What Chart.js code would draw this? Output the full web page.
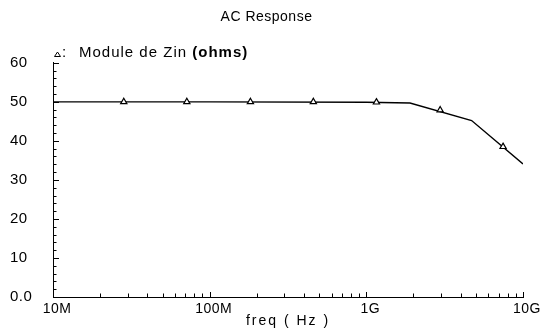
<!DOCTYPE html>
<html><head><meta charset="utf-8">
<script src="https://cdn.jsdelivr.net/npm/chart.js@4.4.0/dist/chart.umd.min.js"></script>
<style>html,body{margin:0;padding:0;background:#fff}#wrap{width:543px;height:333px}</style>
</head><body><div id="wrap"><canvas id="c" width="543" height="333"></canvas></div>
<script>
// ---- data ----
const chartTitle = 'AC Response';
const seriesName = 'Module de Zin';
const seriesUnit = '(ohms)';
const xTitle = 'freq ( Hz )';
const freqHz = [1e7, 1e8, 1e9, 1.9e9, 4.7e9, 1e10];
const zinOhms = [50, 50, 49.9, 49.7, 45.2, 34.1];
const markerFreqHz = [2.83e7, 7.15e7, 1.82e8, 4.59e8, 1.16e9, 2.96e9, 7.46e9];
const markerOhms = [50, 50, 50, 50, 49.9, 47.9, 38.5];
const xTickValues = [1e7, 1e8, 1e9, 1e10];
const xTickLabels = ['10M', '100M', '1G', '10G'];
const yTickValues = [0, 10, 20, 30, 40, 50, 60];
const yTickLabels = ['0.0', '10', '20', '30', '40', '50', '60'];

const FONT = '"Liberation Sans", Arial, sans-serif';
Chart.defaults.font.family = FONT;
Chart.defaults.font.size = 14;
Chart.defaults.color = '#000';

function withSpacing(obj, method, spacing) {
  const orig = obj[method];
  obj[method] = function () {
    const c = this.ctx;
    const prev = c.letterSpacing;
    c.letterSpacing = spacing;
    const r = orig.apply(this, arguments);
    c.letterSpacing = prev;
    return r;
  };
}

const ticksPlugin = {
  id: 'ticksAndLegend',
  beforeDraw(chart) {
    if (!chart._spacingDone) {
      withSpacing(chart.scales.x, 'drawTitle', '2px');
      chart._spacingDone = true;
    }
    chart.ctx.letterSpacing = '0.5px';
  },
  afterDraw(chart) {
    const ctx = chart.ctx;
    const ys = chart.scales.y, xs = chart.scales.x;
    const {left, bottom} = chart.chartArea;
    ctx.save();
    ctx.strokeStyle = '#000';
    ctx.lineWidth = 1;
    ctx.beginPath();
    for (let v = ys.min; v <= ys.max; v += 2) {
      const py = Math.round(ys.getPixelForValue(v)) + 0.5;
      const len = (v % 10 === 0) ? 6 : 3.5;
      ctx.moveTo(left, py); ctx.lineTo(left + len, py);
    }
    for (let e = 7; e <= 10; e++) {
      for (let m = 1; m <= 9; m++) {
        const v = m * Math.pow(10, e);
        if (v > xs.max * 1.0001) break;
        const px = Math.round(xs.getPixelForValue(v)) + 0.5;
        const len = (m === 1) ? 5 : 3.5;
        ctx.moveTo(px, bottom); ctx.lineTo(px, bottom - len);
      }
    }
    ctx.stroke();
    // legend line
    const base = 57;
    const tx = left + 4.5;
    ctx.beginPath();
    ctx.moveTo(tx, base - 5);
    ctx.lineTo(tx + 3, base - 0.5);
    ctx.lineTo(tx - 3, base - 0.5);
    ctx.closePath();
    ctx.stroke();
    ctx.fillStyle = '#000';
    ctx.textBaseline = 'alphabetic';
    ctx.textAlign = 'left';
    ctx.letterSpacing = '1px';
    ctx.font = '15px ' + FONT;
    ctx.fillText(':', left + 9, base);
    const t1 = seriesName + ' ';
    ctx.fillText(t1, left + 26, base);
    const w1 = ctx.measureText(t1).width;
    ctx.font = 'bold 15px ' + FONT;
    ctx.fillText(seriesUnit, left + 26 + w1, base);
    ctx.restore();
  }
};

new Chart(document.getElementById('c'), {
  type: 'line',
  data: {
    datasets: [
      {
        label: seriesName + ' markers',
        data: markerFreqHz.map((f, i) => ({x: f, y: markerOhms[i]})),
        showLine: false,
        pointStyle: 'triangle',
        pointRadius: 3.6,
        pointBorderColor: '#000',
        pointBackgroundColor: '#fff',
        pointBorderWidth: 1.2
      },
      {
        label: seriesName,
        data: freqHz.map((f, i) => ({x: f, y: zinOhms[i]})),
        borderColor: '#000',
        borderWidth: 1.4,
        pointRadius: 0,
        tension: 0,
        fill: false
      }
    ]
  },
  options: {
    responsive: false,
    devicePixelRatio: 1,
    animation: false,
    layout: {padding: {left: 10, right: 20, top: 0, bottom: 0}},
    plugins: {
      legend: {display: false},
      tooltip: {enabled: false},
      title: {
        display: true, text: chartTitle,
        font: {size: 14, weight: 'normal'}, color: '#000',
        padding: {top: 9, bottom: 37}
      }
    },
    scales: {
      x: {
        type: 'logarithmic', position: 'bottom', min: 1e7, max: 1e10,
        grid: {display: true, drawOnChartArea: false, drawTicks: false},
        border: {display: true, color: '#000', width: 1},
        afterBuildTicks: s => { s.ticks = xTickValues.map(v => ({value: v})); },
        afterFit: s => { s.height = 36; },
        ticks: {
          autoSkip: false, maxRotation: 0, padding: 4, color: '#000',
          labelOffset: 4,
          font: {size: 14},
          callback: (v) => { const i = xTickValues.indexOf(v); return i >= 0 ? xTickLabels[i] : ''; }
        },
        title: {display: true, text: xTitle, color: '#000', font: {size: 14}, padding: {top: 0, bottom: 3}}
      },
      y: {
        type: 'linear', min: 0, max: 60,
        grid: {display: true, drawOnChartArea: false, drawTicks: false},
        border: {display: true, color: '#000', width: 1},
        afterBuildTicks: s => { s.ticks = yTickValues.map(v => ({value: v})); },
        afterFit: s => { s.width = 43; },
        ticks: {
          crossAlign: 'far', padding: 8, color: '#000', font: {size: 15},
          callback: (v) => { const i = yTickValues.indexOf(v); return i >= 0 ? yTickLabels[i] : ''; }
        }
      }
    }
  },
  plugins: [ticksPlugin]
});
</script>
</body></html>
